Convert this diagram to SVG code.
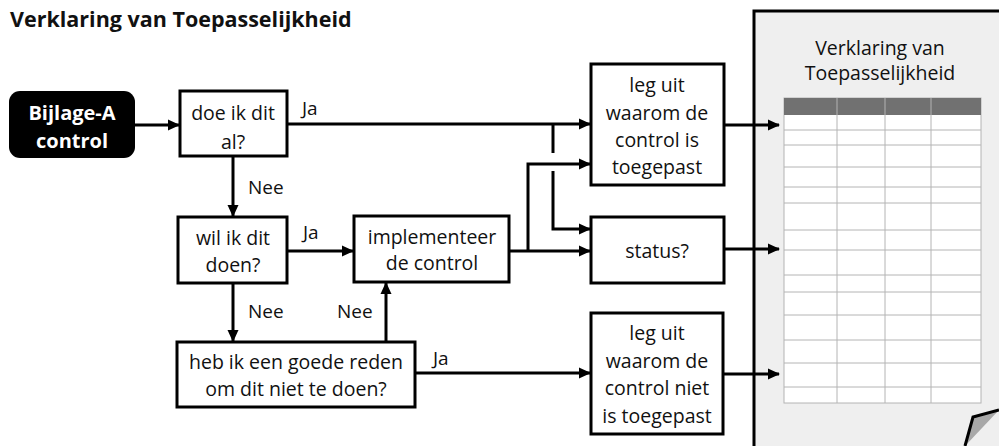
<svg xmlns="http://www.w3.org/2000/svg" width="999" height="446" viewBox="0 0 999 446">
<defs>
<marker id="ah" markerWidth="12" markerHeight="12" viewBox="0 0 12 12" refX="11" refY="6" orient="auto" markerUnits="userSpaceOnUse">
<path d="M0,0.5 L12,6 L0,11.5 Z" fill="#000"/>
</marker>
<style>
.box{fill:#fff;stroke:#000;stroke-width:3}
.t{font-family:"Open Sans","Liberation Sans",sans-serif;font-size:19.5px;fill:#111;text-anchor:middle}
.lbl{font-family:"Open Sans","Liberation Sans",sans-serif;font-size:19px;fill:#111}
.c{fill:none;stroke:#000;stroke-width:3}
.grid{stroke:#b4b4b4;stroke-width:1;fill:none}
</style>
</defs>
<rect width="999" height="446" fill="#fff"/>
<text x="10" y="27" font-family="Open Sans, Liberation Sans, sans-serif" font-weight="bold" font-size="21.5px" fill="#111">Verklaring van Toepasselijkheid</text>

<g id="document">
<rect x="754" y="11" width="260" height="450" fill="#efefef" stroke="#000" stroke-width="3"/>
<text class="t" x="880" y="55" style="font-size:19.5px">Verklaring van</text>
<text class="t" x="880" y="80" style="font-size:19.5px">Toepasselijkheid</text>
<rect x="784" y="98" width="197" height="305" fill="#fff" stroke="#b4b4b4" stroke-width="1"/>
<rect x="784" y="98" width="197" height="17" fill="#717171"/>
<path class="grid" d="M837,98V403 M885,98V403 M931,98V403 M784,130H981 M784,145H981 M784,167H981 M784,187H981 M784,203H981 M784,230H981 M784,250H981 M784,275H981 M784,292H981 M784,315H981 M784,340H981 M784,363H981 M784,387H981"/>
<path d="M999,410 L973,417 L965,446 Z" fill="#a8a8a8" stroke="none"/>
<path d="M999,410 L973,417 L965,446" fill="none" stroke="#000" stroke-width="3"/>
</g>

<g id="bijlage">
<rect x="9" y="91" width="126" height="67" rx="11" fill="#000"/>
<text class="t" x="72" y="120" style="fill:#fff;font-weight:bold;font-size:20px">Bijlage-A</text>
<text class="t" x="72" y="148" style="fill:#fff;font-weight:bold;font-size:20px">control</text>
</g>

<g id="doe">
<rect class="box" x="180" y="91" width="107" height="65"/>
<text class="t" x="233" y="120">doe ik dit</text>
<text class="t" x="233" y="149">al?</text>
</g>

<g id="wil">
<rect class="box" x="178" y="217" width="109" height="66"/>
<text class="t" x="233" y="245">wil ik dit</text>
<text class="t" x="233" y="272">doen?</text>
</g>

<g id="heb">
<rect class="box" x="177" y="342" width="238" height="65"/>
<text class="t" x="296" y="369">heb ik een goede reden</text>
<text class="t" x="296" y="396">om dit niet te doen?</text>
</g>

<g id="implementeer">
<rect class="box" x="354" y="216" width="155" height="66"/>
<text class="t" x="432" y="244">implementeer</text>
<text class="t" x="432" y="270">de control</text>
</g>

<g id="leguit">
<rect class="box" x="591" y="64" width="133" height="121"/>
<text class="t" x="657" y="92">leg uit</text>
<text class="t" x="657" y="120">waarom de</text>
<text class="t" x="657" y="147">control is</text>
<text class="t" x="657" y="174">toegepast</text>
</g>

<g id="status">
<rect class="box" x="591" y="217" width="133" height="66"/>
<text class="t" x="657" y="258">status?</text>
</g>

<g id="leguitniet">
<rect class="box" x="591" y="313" width="132" height="121"/>
<text class="t" x="657" y="340">leg uit</text>
<text class="t" x="657" y="368">waarom de</text>
<text class="t" x="657" y="395">control niet</text>
<text class="t" x="657" y="423">is toegepast</text>
</g>

<g id="connectors">
<path class="c" d="M135,125 H179" marker-end="url(#ah)"/>
<path class="c" d="M287,124 H590" marker-end="url(#ah)"/>
<path class="c" d="M233,156 V216" marker-end="url(#ah)"/>
<path class="c" d="M287,251 H353" marker-end="url(#ah)"/>
<path class="c" d="M233,283 V341" marker-end="url(#ah)"/>
<path class="c" d="M386,342 V283" marker-end="url(#ah)"/>
<path class="c" d="M415,373 H590" marker-end="url(#ah)"/>
<path class="c" d="M509,251 H590" marker-end="url(#ah)"/>
<path class="c" d="M528,251 V164 H590" marker-end="url(#ah)"/>
<path class="c" d="M553,124 V153"/>
<path class="c" d="M553,171 V229 H590" marker-end="url(#ah)"/>
<path class="c" d="M724,125 H779" marker-end="url(#ah)"/>
<path class="c" d="M724,249 H779" marker-end="url(#ah)"/>
<path class="c" d="M723,374 H779" marker-end="url(#ah)"/>
<text class="lbl" x="302" y="115">Ja</text>
<text class="lbl" x="248" y="194">Nee</text>
<text class="lbl" x="303" y="239">Ja</text>
<text class="lbl" x="248" y="318">Nee</text>
<text class="lbl" x="337" y="318">Nee</text>
<text class="lbl" x="433" y="365">Ja</text>
</g>
</svg>
